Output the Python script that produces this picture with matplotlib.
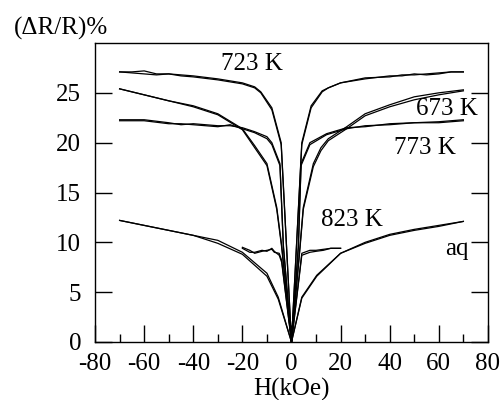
import matplotlib
matplotlib.use("Agg")
import matplotlib.pyplot as plt
from matplotlib.ticker import MultipleLocator

# magnetoresistance curves, two sweep branches each (a / b)
H_723 = [-70, -65, -60, -55, -50, -45, -40, -30, -20, -15, -12.5, -8, -4.2, 0,
         4.2, 8, 12.5, 15, 20, 30, 40, 45, 50, 55, 60, 65, 70]
R_723a = [27.1, 27.1, 27.2, 26.9, 26.9, 26.8, 26.7, 26.4, 26.0, 25.6, 25.1, 23.5, 20.0, 0,
          20.0, 23.7, 25.2, 25.5, 26.0, 26.4, 26.7, 26.7, 26.9, 26.8, 26.9, 27.1, 27.1]
R_723b = [27.1, 27.0, 26.9, 26.8, 26.9, 26.7, 26.6, 26.3, 25.9, 25.5, 25.0, 23.3, 19.8, 0,
          19.8, 23.5, 25.1, 25.5, 26.0, 26.5, 26.6, 26.8, 26.8, 26.9, 27.0, 27.1, 27.1]

H_673 = [-70, -60, -50, -40, -30, -20, -15, -10, -6, -4, 0,
         3.5, 4.8, 8.9, 12, 15, 22.5, 30, 40, 50, 60, 70]
R_673a = [25.4, 24.8, 24.2, 23.7, 22.9, 21.4, 19.7, 17.9, 13.5, 9.7, 0,
          9.7, 13.5, 17.9, 19.5, 20.4, 21.6, 22.9, 23.8, 24.6, 25.0, 25.3]
R_673b = [25.4, 24.8, 24.2, 23.6, 22.8, 21.3, 19.5, 17.7, 13.3, 9.5, 0,
          9.5, 13.3, 17.6, 19.2, 20.2, 21.4, 22.7, 23.6, 24.3, 24.8, 25.2]

H_773 = [-70, -60, -50, -45, -40, -30, -25, -20, -15, -10, -8, -4.7, -3.3, 0,
         2.8, 3.9, 7.5, 14.3, 22.5, 30, 40, 50, 60, 70]
R_773a = [22.3, 22.3, 22.0, 21.8, 21.9, 21.7, 21.7, 21.5, 21.1, 20.6, 20.0, 17.9, 9.7, 0,
          9.7, 17.9, 20.0, 20.9, 21.5, 21.6, 21.9, 22.0, 22.1, 22.3]
R_773b = [22.2, 22.2, 21.9, 21.9, 21.8, 21.6, 21.8, 21.4, 21.0, 20.4, 19.8, 17.7, 9.5, 0,
          9.5, 17.7, 19.8, 20.8, 21.4, 21.7, 21.8, 22.0, 22.0, 22.2]

H_823 = [-20, -17, -15, -12, -10, -8, -7, -5, -4, 0, 4.2, 7.5, 10, 13, 16, 20]
R_823a = [9.5, 9.2, 8.9, 9.1, 9.2, 9.3, 9.0, 8.9, 8.2, 0, 8.9, 9.2, 9.2, 9.3, 9.4, 9.4]
R_823b = [9.4, 9.0, 9.0, 9.2, 9.1, 9.4, 9.1, 8.7, 8.0, 0, 8.7, 9.0, 9.1, 9.2, 9.4, 9.4]

H_aq = [-70, -60, -50, -40, -30, -20, -10, -5.4, 0, 4.2, 10.3, 20, 30, 40, 50, 60, 70]
R_aqa = [12.2, 11.7, 11.2, 10.7, 10.2, 9.0, 6.9, 4.5, 0, 4.5, 6.7, 8.9, 10.0, 10.8, 11.3, 11.7, 12.1]
R_aqb = [12.2, 11.7, 11.2, 10.7, 9.9, 8.8, 6.6, 4.3, 0, 4.4, 6.6, 8.9, 9.9, 10.7, 11.2, 11.6, 12.1]

curvas = [(H_723, R_723a, R_723b), (H_673, R_673a, R_673b), (H_773, R_773a, R_773b),
          (H_823, R_823a, R_823b), (H_aq, R_aqa, R_aqb)]

rotulos = ['723 K', '673 K', '773 K', '823 K', 'aq']
rot_x = [-16, 63.5, 54.5, 24.5, 67.5]
rot_y = [27.9, 23.4, 19.5, 12.2, 9.3]

plt.rcParams['font.family'] = ['Liberation Serif', 'DejaVu Serif']
plt.rcParams['font.size'] = 18
plt.rcParams['axes.unicode_minus'] = False

fig = plt.figure(figsize=(5.03, 4.0), dpi=100)
ax = fig.add_axes([0.189, 0.145, 0.781, 0.7475])

for H, Ra, Rb in curvas:
    ax.plot(H, Ra, color='black', linewidth=0.9)
    ax.plot(H, Rb, color='black', linewidth=0.9)

for txt, x, y in zip(rotulos, rot_x, rot_y):
    ax.text(x, y, txt, ha='center', va='center', fontsize=18)

ax.set_xlim(-80, 80)
ax.set_ylim(0, 30)
ax.xaxis.set_major_locator(MultipleLocator(20))
ax.xaxis.set_minor_locator(MultipleLocator(10))
ax.set_yticks([0, 5, 10, 15, 20, 25])
ax.tick_params(axis='x', which='major', direction='in', length=12, width=1, top=False, pad=8)
ax.tick_params(axis='x', which='minor', direction='in', length=6, width=1, top=False)
ax.tick_params(axis='y', which='major', direction='in', length=12, width=1, right=True, pad=10)
ax.tick_params(labelsize=18)

ax.set_xlabel('H(kOe)', fontsize=18, labelpad=2)
fig.text(0.028, 0.93, '(\u0394R/R)%', fontsize=18, ha='left', va='center')

for s in ax.spines.values():
    s.set_linewidth(1.0)

fig.savefig('out.png', dpi=100)
